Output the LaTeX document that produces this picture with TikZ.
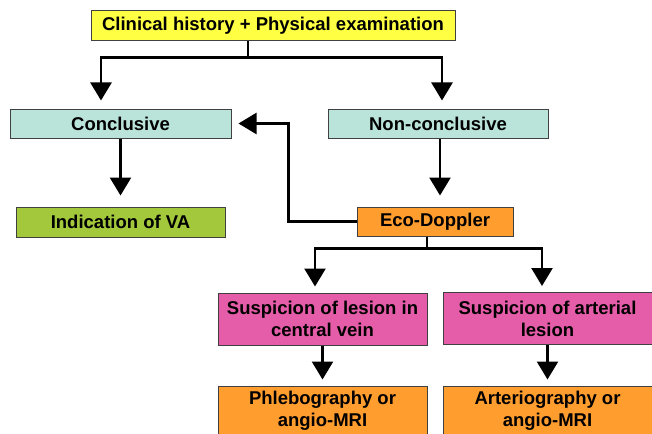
\documentclass[tikz,border=0pt]{standalone}
\usepackage{fontspec}
\setmainfont{Liberation Sans}
\usetikzlibrary{arrows.meta}

\definecolor{histyellow}{HTML}{FFFF44}
\definecolor{resteal}{HTML}{BAE3DA}
\definecolor{vagreen}{HTML}{A3C83C}
\definecolor{exorange}{HTML}{FF9D2F}
\definecolor{suspink}{HTML}{E55CA8}

\begin{document}
\begin{tikzpicture}[x=1pt, y=-1pt, line join=miter,
	font=\fontsize{18.5}{22}\selectfont\bfseries,
	box/.style={draw=black!75, line width=1pt, inner sep=1pt, align=center},
	link/.style={line width=2.5pt, -{Triangle[width=21pt,length=18pt]}}]
	
	\useasboundingbox (0,0) rectangle (652,433);
	\clip (0,0) rectangle (652,433);
	
	\coordinate (H) at (273, 26);
	\coordinate (C) at (120.5, 123.5);
	\coordinate (N) at (438, 123.5);
	\coordinate (V) at (120.5, 222);
	\coordinate (E) at (435, 221.5);
	\coordinate (S1) at (322.5, 319);
	\coordinate (S2) at (547.5, 318.5);
	\coordinate (P1) at (322.5, 411);
	\coordinate (P2) at (547.5, 411);
	
	\node[box, fill=histyellow, minimum width=364pt, minimum height=30pt] (hist) at (H) {Clinical history + Physical examination};
	\node[box, fill=resteal, minimum width=221pt, minimum height=29pt] (concl) at (C) {Conclusive};
	\node[box, fill=resteal, minimum width=220pt, minimum height=29pt] (nonconcl) at (N) {Non-conclusive};
	\node[box, fill=vagreen, minimum width=209pt, minimum height=30pt] (indic) at (V) {Indication of VA};
	\node[box, fill=exorange, minimum width=156pt, minimum height=29pt] (eco) at (E) {Eco-Doppler};
	\node[box, fill=suspink, minimum width=209pt, minimum height=52pt] (susvein) at (S1) {Suspicion of lesion in\\central vein};
	\node[box, fill=suspink, minimum width=209pt, minimum height=52pt] (susart) at (S2) {Suspicion of arterial\\lesion};
	\node[box, fill=exorange, minimum width=209pt, minimum height=50pt] (phleb) at (P1) {Phlebography or\\angio-MRI};
	\node[box, fill=exorange, minimum width=209pt, minimum height=50pt] (arter) at (P2) {Arteriography or\\angio-MRI};
	
	\draw[link, shorten >=8pt] ([xshift=-25pt]hist.south) -- ++(0,16) -| ([xshift=-19.5pt]concl.north);
	\draw[link, shorten >=8pt] ([xshift=-25pt]hist.south) -- ++(0,16) -| ([xshift=4pt]nonconcl.north);
	\draw[link, shorten >=11pt] (concl.south) -- (indic.north);
	\draw[link, shorten >=11pt] ([xshift=2pt]nonconcl.south) -- ([xshift=5pt]eco.north);
	\draw[link, shorten >=7pt] (eco.west) -| ([xshift=57pt]concl.east) -- (concl.east);
	\draw[link, shorten >=6pt] ([xshift=-8pt]eco.south) -- ++(0,12) -| ([xshift=-7.5pt]susvein.north);
	\draw[link, shorten >=6pt] ([xshift=-8pt]eco.south) -- ++(0,12) -| ([xshift=-5.5pt]susart.north);
	\draw[link, shorten >=6pt] (susvein.south) -- (susvein.south |- phleb.north);
	\draw[link, shorten >=6pt] (susart.south) -- (susart.south |- arter.north);
	
\end{tikzpicture}
\end{document}
